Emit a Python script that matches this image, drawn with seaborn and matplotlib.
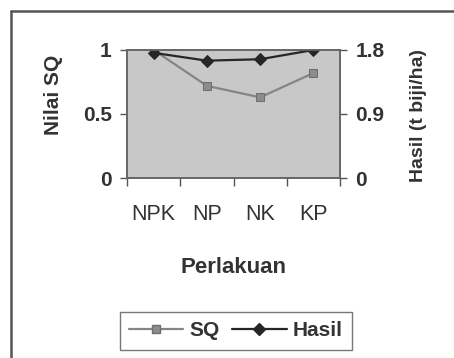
import numpy as np
import pandas as pd
import matplotlib
matplotlib.use("Agg")
import matplotlib.pyplot as plt
import seaborn as sns
from matplotlib.lines import Line2D

# data
perlakuan = ["NPK", "NP", "NK", "KP"]
sq = [1.0, 0.72, 0.63, 0.82]
hasil = [1.76, 1.65, 1.67, 1.80]

sq_ticks = [0, 0.5, 1]
hasil_ticks = [0, 0.9, 1.8]

df = pd.DataFrame({"Perlakuan": perlakuan, "SQ": sq, "Hasil": hasil})

sns.set_style("white")
plt.rcParams["font.family"] = ["Liberation Sans", "DejaVu Sans"]

fig = plt.figure(figsize=(4.54, 3.58), dpi=100)
ax = fig.add_axes([127 / 454, 1 - 178 / 358, 213 / 454, 128 / 358])
ax.set_facecolor("#c8c8c8")

sq_col = "#858585"
ha_col = "#262626"

sns.lineplot(data=df, x="Perlakuan", y="SQ", ax=ax, color=sq_col, lw=1.6,
             marker="s", markersize=6, markerfacecolor="#8c8c8c",
             markeredgecolor="#6e6e6e", sort=False)
ax2 = ax.twinx()
sns.lineplot(data=df, x="Perlakuan", y="Hasil", ax=ax2, color=ha_col, lw=1.6,
             marker="D", markersize=6, markerfacecolor=ha_col,
             markeredgecolor=ha_col, sort=False)

ax.set_xlim(-0.5, 3.5)
ax.set_ylim(0, 1)
ax2.set_ylim(0, 1.8)
ax.set_yticks(sq_ticks)
ax.set_yticklabels(["0", "0.5", "1"])
ax2.set_yticks(hasil_ticks)
ax2.set_yticklabels(["0", "0.9", "1.8"])

# category ticks between groups
ax.set_xticks(range(len(perlakuan)))
ax.set_xticklabels(perlakuan, fontsize=15.5)
ax.set_xticks(np.arange(-0.5, 4, 1), minor=True)
ax.tick_params(axis="x", which="major", length=0, pad=19, colors="#333333")
ax.tick_params(axis="x", which="minor", length=6, width=1, color="#555555",
               direction="out", bottom=True)

for a in (ax, ax2):
    a.tick_params(axis="y", length=5, width=1, color="#555555",
                  direction="out", labelsize=15, pad=6, labelcolor="#333333")
    for t in a.get_yticklabels():
        t.set_fontweight("bold")
    for s in a.spines.values():
        s.set_color("#666666")
        s.set_linewidth(1.2)
ax.tick_params(axis="y", left=True)
ax2.tick_params(axis="y", right=True)

ax.set_xlabel("Perlakuan", fontsize=16, fontweight="bold", color="#333333")
ax.xaxis.set_label_coords(0.5, -0.62)
ax.set_ylabel("Nilai SQ", fontsize=15, fontweight="bold", color="#333333")
ax.yaxis.set_label_coords(-0.30, 0.65)
ax2.set_ylabel("Hasil (t biji/ha)", fontsize=14, fontweight="bold",
               color="#333333")
ax2.yaxis.set_label_coords(1.33, 0.485)

h = [Line2D([], [], color=sq_col, lw=1.6, marker="s", markersize=6,
            markerfacecolor="#8c8c8c", markeredgecolor="#6e6e6e"),
     Line2D([], [], color=ha_col, lw=1.6, marker="D", markersize=6,
            markerfacecolor=ha_col)]
leg = fig.legend(h, ["SQ", "Hasil"], loc="center", ncol=2,
                 bbox_to_anchor=(236 / 454, 1 - 331 / 358),
                 prop={"weight": "bold", "size": 15}, frameon=True,
                 fancybox=False, edgecolor="#555555", handlelength=2.6,
                 columnspacing=0.6, handletextpad=0.3, borderpad=0.45)
for t in leg.get_texts():
    t.set_color("#333333")

# outer chart frame (cut by the picture edge)
fx, fy = 11 / 454, 1 - 11 / 358
fig.add_artist(Line2D([fx, fx], [0, fy], transform=fig.transFigure,
                      color="#555555", lw=1.8))
fig.add_artist(Line2D([fx, 1], [fy, fy], transform=fig.transFigure,
                      color="#555555", lw=1.8))

fig.savefig("out.png", dpi=100)
